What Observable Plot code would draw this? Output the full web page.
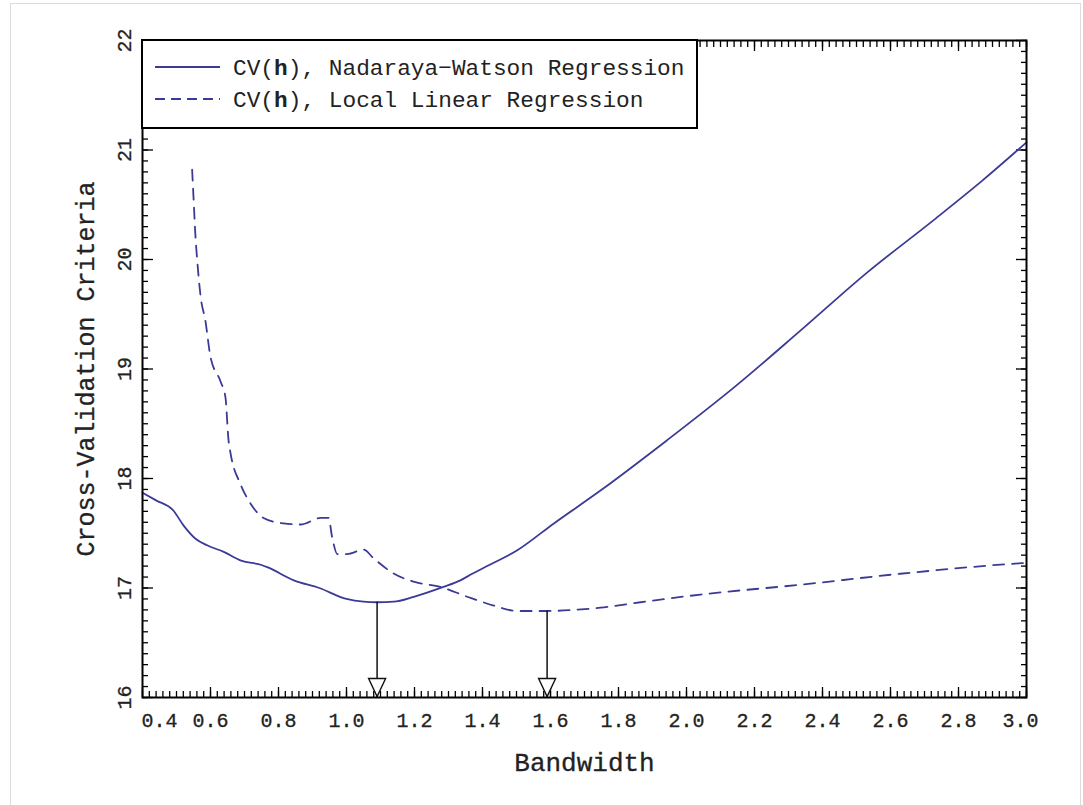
<!DOCTYPE html>
<html>
<head>
<meta charset="utf-8">
<script src="https://cdn.jsdelivr.net/npm/d3@7"></script>
<script src="https://cdn.jsdelivr.net/npm/@observablehq/plot@0.6"></script>
<style>
  body { margin: 0; background: #fff; }
  #wrap { position: relative; width: 1083px; height: 805px; overflow: hidden; background: #fff; }
  #border { position: absolute; left: 10px; top: 3px; width: 1069px; height: 830px; border: 1px solid #dcdcdc; }
  #chart { position: absolute; left: 0; top: 0; }
  #legend { position: absolute; left: 141px; top: 39px; width: 557px; height: 90px; box-sizing: border-box;
            border: 2px solid #000; background: #fff; }
  #legend svg { position: absolute; left: 0; top: 0; }
</style>
</head>
<body>
<div id="wrap"><div id="border"></div><div id="chart"></div><div id="legend"></div></div>
<script>
// Nadaraya-Watson CV(h) (solid)
const nwH  = [0.40, 0.44, 0.49, 0.521, 0.556, 0.59, 0.639, 0.69, 0.75, 0.767, 0.845, 0.92, 1.00, 1.05, 1.09, 1.139, 1.198, 1.285, 1.335, 1.37, 1.42, 1.50, 1.61, 1.747, 1.943, 2.139, 2.335, 2.531, 2.727, 2.87, 3.00];
const nwCV = [17.87, 17.80, 17.71, 17.57, 17.45, 17.39, 17.33, 17.25, 17.21, 17.19, 17.07, 17.00, 16.90, 16.875, 16.87, 16.875, 16.92, 17.01, 17.07, 17.13, 17.21, 17.34, 17.59, 17.89, 18.35, 18.83, 19.35, 19.88, 20.36, 20.72, 21.07];
// Local linear CV(h) (dashed)
const llH  = [0.546, 0.55, 0.556, 0.561, 0.571, 0.585, 0.60, 0.629, 0.644, 0.653, 0.659, 0.688, 0.718, 0.756, 0.815, 0.865, 0.924, 0.947, 0.958, 0.973, 1.002, 1.05, 1.08, 1.14, 1.208, 1.276, 1.355, 1.433, 1.502, 1.59, 1.668, 1.747, 1.865, 2.041, 2.335, 2.629, 2.953, 3.00];
const llCV = [20.82, 20.57, 20.20, 19.99, 19.66, 19.44, 19.11, 18.89, 18.74, 18.35, 18.23, 17.95, 17.77, 17.64, 17.59, 17.58, 17.64, 17.64, 17.46, 17.31, 17.31, 17.35, 17.27, 17.13, 17.05, 17.01, 16.92, 16.84, 16.79, 16.79, 16.80, 16.82, 16.87, 16.94, 17.03, 17.13, 17.22, 17.23];
// Minimising bandwidths (arrows)
const minH  = [1.09, 1.59];
const minCV = [16.87, 16.79];
// Axis ticks
const xMajor = d3.range(0, 14).map(i => +(0.4 + i * 0.2).toFixed(2));
const xMinor = d3.range(0, 131).map(i => +(0.4 + i * 0.02).toFixed(3));
const yMajor = [16, 17, 18, 19, 20, 21, 22];
const yMinor = d3.range(0, 61).map(i => +(16 + i * 0.1).toFixed(2));
const legendLabels = ["Nadaraya\u2212Watson Regression", "Local Linear Regression"];
const xTitle = "Bandwidth";
const yTitle = "Cross-Validation Criteria";

const nw = nwH.map((h, i) => ({h, cv: nwCV[i]}));
const ll = llH.map((h, i) => ({h, cv: llCV[i]}));
const mins = minH.map((h, i) => ({h, cv: minCV[i]}));

const lineColor = "#3b3b96";
const font = "Liberation Mono, DejaVu Sans Mono, monospace";

const arrowHead = {
  draw(ctx) {
    ctx.moveTo(-8.5, -19);
    ctx.lineTo(8.5, -19);
    ctx.lineTo(0, -1);
    ctx.closePath();
  }
};

const tickOpts = {text: null, label: null, stroke: "#000", strokeWidth: 1.3};
const labOpts = {fill: "#222", stroke: "#222", strokeWidth: 0.3, textAnchor: "middle"};

const chart = Plot.plot({
  width: 1083,
  height: 805,
  marginLeft: 142,
  marginRight: 57,
  marginTop: 40,
  marginBottom: 108,
  style: {fontFamily: font, color: "#222", background: "transparent"},
  x: {domain: [0.4, 3.0]},
  y: {domain: [16, 22]},
  marks: [
    Plot.axisX(xMinor, {...tickOpts, anchor: "bottom", tickSize: -6}),
    Plot.axisX(xMajor, {...tickOpts, anchor: "bottom", tickSize: -10}),
    Plot.axisX(xMinor, {...tickOpts, anchor: "top", tickSize: -6}),
    Plot.axisX(xMajor, {...tickOpts, anchor: "top", tickSize: -10}),
    Plot.axisY(yMinor, {...tickOpts, anchor: "left", tickSize: -6}),
    Plot.axisY(yMajor, {...tickOpts, anchor: "left", tickSize: -11}),
    Plot.axisY(yMinor, {...tickOpts, anchor: "right", tickSize: -6}),
    Plot.axisY(yMajor, {...tickOpts, anchor: "right", tickSize: -11}),
    Plot.text(xMajor.slice(1, -1), {...labOpts, x: d => d, text: d => d.toFixed(1), frameAnchor: "bottom", dy: 29, fontSize: 20}),
    Plot.text(xMajor.slice(0, 1), {...labOpts, x: d => d, text: d => d.toFixed(1), frameAnchor: "bottom", dy: 29, dx: 17, fontSize: 20}),
    Plot.text(xMajor.slice(-1), {...labOpts, x: d => d, text: d => d.toFixed(1), frameAnchor: "bottom", dy: 29, dx: -6, fontSize: 20}),
    Plot.text(yMajor, {...labOpts, y: d => d, text: d => String(d), frameAnchor: "left", dx: -18, rotate: -90, fontSize: 20}),
    Plot.text([xTitle], {...labOpts, frameAnchor: "bottom", dy: 73, fontSize: 26}),
    Plot.text([yTitle], {...labOpts, frameAnchor: "left", dx: -57, rotate: -90, fontSize: 25}),
    Plot.line(nw, {x: "h", y: "cv", stroke: lineColor, strokeWidth: 1.8, curve: "monotone-x"}),
    Plot.line(ll, {x: "h", y: "cv", stroke: lineColor, strokeWidth: 1.8, strokeDasharray: "11,8", curve: "monotone-x"}),
    Plot.ruleX(mins, {x: "h", y1: "cv", y2: 16, stroke: "#111", strokeWidth: 1.5}),
    Plot.dot(mins, {x: "h", y: 16, symbol: arrowHead, r: 5, fill: "#fff", stroke: "#111", strokeWidth: 1.4}),
    Plot.frame({stroke: "#000", strokeWidth: 2})
  ]
});
document.getElementById("chart").appendChild(chart);

// Legend box
const lg = d3.select("#legend").append("svg").attr("width", 553).attr("height", 86)
  .style("font-family", font).style("font-size", "22.8px").style("fill", "#222");
const dashes = [null, "10,6"];
legendLabels.forEach((lab, i) => {
  const ly = 26 + i * 32;
  lg.append("line").attr("x1", 12).attr("x2", 77).attr("y1", ly).attr("y2", ly)
    .attr("stroke", lineColor).attr("stroke-width", 1.8).attr("stroke-dasharray", dashes[i]);
  const t = lg.append("text").attr("x", 90).attr("y", ly + 8);
  t.append("tspan").text("CV(");
  t.append("tspan").attr("font-weight", "bold").text("h");
  t.append("tspan").text("), " + lab);
});
</script>
</body>
</html>
